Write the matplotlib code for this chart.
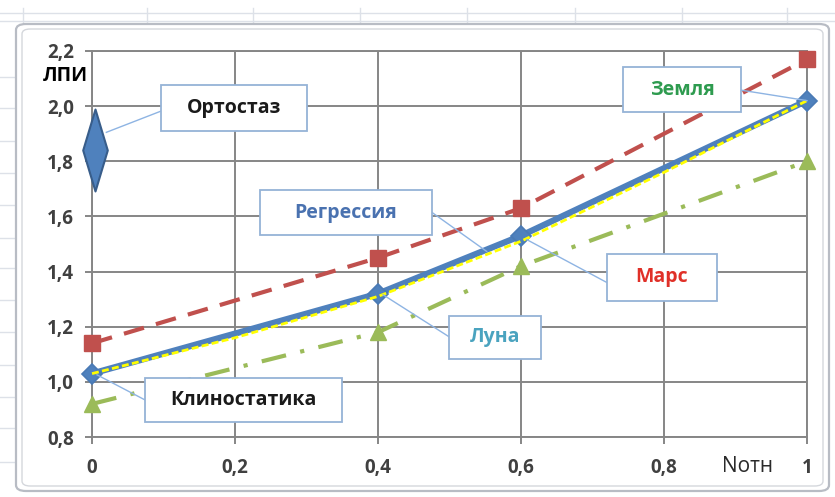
import matplotlib.pyplot as plt
from matplotlib.patches import Rectangle, FancyBboxPatch
from matplotlib.lines import Line2D
from matplotlib.path import Path
from matplotlib.ticker import FuncFormatter, MultipleLocator

plt.rcParams['font.family'] = ['Open Sans', 'DejaVu Sans']

# relative load (Nотн) and index values for each gravity level
n_otn = [0, 0.4, 0.6, 1]
earth = [1.03, 1.32, 1.53, 2.02]
mars = [1.14, 1.45, 1.63, 2.17]
moon = [0.92, 1.18, 1.42, 1.80]

# regression curve through the Earth data
regr_x = [0, 0.2, 0.4, 0.6, 0.8, 1]
regr_y = [1.03, 1.16, 1.31, 1.51, 1.76, 2.02]

# orthostatic test point
ortho_x = [0.004]
ortho_y = [1.84]

grid_col = '#868686'
lead_col = '#8eb4e3'
box_col = '#95b3d7'

fig = plt.figure(figsize=(8.35, 4.97), dpi=100)
fig.patch.set_facecolor('white')

# spreadsheet cells behind the chart
for x in [23, 147, 253, 360, 467, 575, 682, 787]:
    fig.add_artist(Line2D([x / 835, x / 835], [1 - 8 / 497, 1 - 24 / 497],
                          color='#dde1e8', lw=1, zorder=0))
for y in [13, 21]:
    fig.add_artist(Line2D([0, 1], [1 - y / 497, 1 - y / 497],
                          color='#dde1e8', lw=1, zorder=0))
for y in [77, 108, 141, 173, 205, 238, 268, 300, 332, 365, 397, 428, 462]:
    fig.add_artist(Line2D([0, 15 / 835], [1 - y / 497, 1 - y / 497],
                          color='#dde1e8', lw=1, zorder=0))

# chart area frame
fig.add_artist(FancyBboxPatch((16 / 835, 1 - 491 / 497), 813 / 835, 467 / 497,
                              boxstyle='round,pad=0,rounding_size=0.012',
                              transform=fig.transFigure, facecolor='white',
                              edgecolor='#b8bcc4', lw=1.6, zorder=1))
fig.add_artist(FancyBboxPatch((22 / 835, 1 - 486 / 497), 801 / 835, 457 / 497,
                              boxstyle='round,pad=0,rounding_size=0.01',
                              transform=fig.transFigure, facecolor='white',
                              edgecolor='#d4d7dc', lw=1, zorder=1))

ax = fig.add_axes([0.1102, 0.1207, 0.8563, 0.7767], zorder=2)
ax.patch.set_alpha(0)
ax.set_xlim(0, 1)
ax.set_ylim(0.8, 2.2)
ax.xaxis.set_major_locator(MultipleLocator(0.2))
ax.yaxis.set_major_locator(MultipleLocator(0.2))
ax.xaxis.set_major_formatter(FuncFormatter(lambda v, p: f'{v:g}'.replace('.', ',')))
ax.yaxis.set_major_formatter(FuncFormatter(lambda v, p: f'{v:.1f}'.replace('.', ',')))
ax.grid(True, color=grid_col, lw=1.4)
ax.set_axisbelow(True)
for s in ax.spines.values():
    s.set_color(grid_col)
    s.set_linewidth(1.4)
ax.tick_params(axis='both', direction='out', length=5, width=1.4, color=grid_col,
               labelsize=13.5, labelcolor='#404040')
ax.tick_params(axis='y', pad=8)
ax.tick_params(axis='x', pad=10)
for lbl in ax.get_xticklabels() + ax.get_yticklabels():
    lbl.set_fontweight('bold')

# series
ax.plot(n_otn, mars, color='#c0504d', lw=3, dashes=(5, 3), marker='s', ms=11,
        mec='#c0504d', clip_on=False, zorder=3)
ax.plot(n_otn, moon, color='#9bbb59', lw=3, dashes=(6, 3.5, 1, 3.5), marker='^', ms=12,
        mec='#9bbb59', clip_on=False, zorder=3)
ax.plot(n_otn, earth, color='#4f81bd', lw=4.5, marker='D', ms=10, mfc='#4f81bd',
        mec='#4a7ab5', mew=1.2, clip_on=False, zorder=4)
ax.plot(regr_x, regr_y, color='#ffff00', lw=2, dashes=(2.5, 1.2), clip_on=False, zorder=5)

tall_diamond = Path([(0, 1), (0.3, 0), (0, -1), (-0.3, 0), (0, 1)],
                    [Path.MOVETO, Path.LINETO, Path.LINETO, Path.LINETO, Path.CLOSEPOLY])
ax.plot(ortho_x, ortho_y, ls='none', marker=tall_diamond, ms=59, mfc='#4f81bd',
        mec='#385d8a', mew=1.5, clip_on=False, zorder=4)

# data labels: (x0, x1, y0, y1) box, text, colour, leader start, leader end
labels = [
    ((0.0965, 0.3007, 1.909, 2.076), 'Ортостаз', '#1a1a1a', (0.0965, 1.982), (0.02, 1.905)),
    ((0.235, 0.4755, 1.531, 1.6945), 'Регрессия', '#4a72b0', (0.4755, 1.6145), (0.552, 1.473)),
    ((0.7427, 0.9077, 1.978, 2.142), 'Земля', '#2e9b4f', (0.9077, 2.058), (n_otn[3], earth[3])),
    ((0.7203, 0.874, 1.2945, 1.4655), 'Марс', '#e03028', (0.7203, 1.36), (0.608, 1.516)),
    ((0.4993, 0.628, 1.0836, 1.24), 'Луна', '#4aa3bf', (0.4993, 1.1636), (0.407, 1.316)),
    ((0.0741, 0.3497, 0.8545, 1.0145), 'Клиностатика', '#1a1a1a', (0.0741, 0.9345), (0.007, 1.0255)),
]
for (x0, x1, y0, y1), txt, col, p0, p1 in labels:
    ax.plot([p0[0], p1[0]], [p0[1], p1[1]], color=lead_col, lw=1, zorder=6, clip_on=False)
    ax.add_patch(Rectangle((x0, y0), x1 - x0, y1 - y0, facecolor='white',
                           edgecolor=box_col, lw=1.3, zorder=7, clip_on=False))
    ax.text((x0 + x1) / 2, (y0 + y1) / 2, txt, color=col, fontsize=14, fontweight='bold',
            ha='center', va='center', zorder=8)

# axis titles
fig.text(43 / 835, 1 - 76 / 497, 'ЛПИ', fontsize=14, fontweight='bold', color='black',
         ha='left', va='center')
fig.text(748 / 835, 1 - 466 / 497, 'Nотн', fontsize=15, color='#2a2a2a',
         ha='center', va='center')

fig.savefig('out.png', dpi=100)
